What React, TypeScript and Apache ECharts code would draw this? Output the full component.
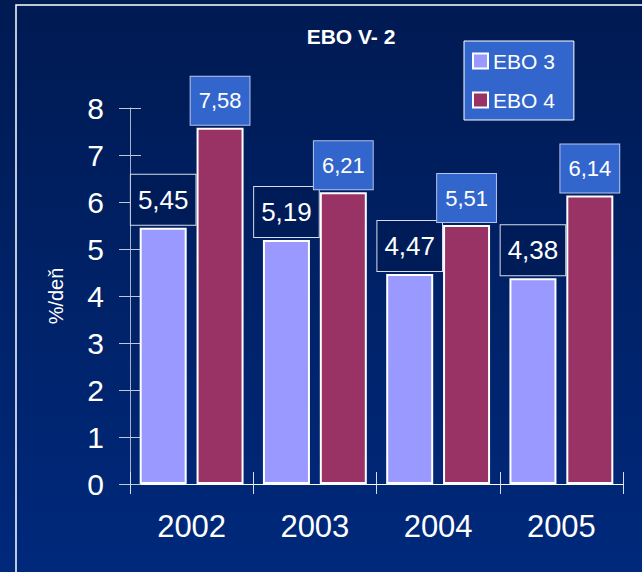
import React, { useEffect, useRef } from "react";
import * as echarts from "echarts";

const categories = ["2002", "2003", "2004", "2005"];
const ebo3 = [5.45, 5.19, 4.47, 4.38];
const ebo4 = [7.58, 6.21, 5.51, 6.14];
const seriesNames = ["EBO 3", "EBO 4"];
const titleText = "EBO V- 2";
const yName = "%/deň";

const FONT = "Arial, 'Liberation Sans', sans-serif";
const fmt = (p: any) => Number(p.value).toFixed(2).replace(".", ",");

export default function App() {
  const ref = useRef<HTMLDivElement>(null);
  useEffect(() => {
    if (!ref.current) return;
    const chart = echarts.init(ref.current, null, { renderer: "svg" });
    const yCommon = { type: "value", min: 0, max: 8, interval: 1, splitLine: { show: false } };
    chart.setOption({
      animation: false,
      backgroundColor: new echarts.graphic.LinearGradient(0, 0, 0, 1, [
        { offset: 0, color: "#001A52" },
        { offset: 1, color: "#00297C" },
      ]),
      textStyle: { fontFamily: FONT },
      title: {
        text: titleText,
        left: 346,
        top: 21,
        textAlign: "center",
        textStyle: { color: "#FFFFFF", fontSize: 21, fontWeight: "bold", fontFamily: FONT },
      },
      legend: {
        orient: "vertical",
        left: 464,
        top: 41,
        padding: [9, 19, 9, 8],
        backgroundColor: "#3366CC",
        borderColor: "#FFFFFF",
        borderWidth: 1,
        itemWidth: 15,
        itemHeight: 15,
        itemGap: 17,
        itemTextGap: 6,
        icon: "rect",
        data: seriesNames,
        textStyle: { color: "#FFFFFF", fontSize: 21, lineHeight: 22, fontFamily: FONT },
      },
      grid: { left: 130, right: 19, top: 108, bottom: 88, containLabel: false },
      xAxis: [
        {
          type: "category",
          data: categories,
          axisLine: { lineStyle: { color: "#FFFFFF", width: 1 } },
          axisTick: { show: true, length: 10, lineStyle: { color: "#D8DCEC" } },
          axisLabel: { color: "#FFFFFF", fontSize: 31, margin: 27, fontFamily: FONT },
        },
        {
          type: "category",
          data: categories,
          position: "bottom",
          axisLine: { show: false },
          axisTick: { show: true, inside: true, length: 12, lineStyle: { color: "#D8DCEC" } },
          axisLabel: { show: false },
        },
      ],
      yAxis: [
        {
          ...yCommon,
          name: yName,
          nameLocation: "middle",
          nameGap: 64,
          nameTextStyle: { color: "#FFFFFF", fontSize: 20, fontFamily: FONT },
          axisLine: { show: true, lineStyle: { color: "#A8B0CC", width: 1 } },
          axisTick: { show: true, length: 11, lineStyle: { color: "#C0C6DC" } },
          axisLabel: { color: "#FFFFFF", fontSize: 30, margin: 26, fontFamily: FONT },
        },
        {
          ...yCommon,
          position: "left",
          axisLine: { show: false },
          axisTick: { show: true, inside: true, length: 11, lineStyle: { color: "#C0C6DC" } },
          axisLabel: { show: false },
        },
      ],
      series: [
        {
          name: seriesNames[0],
          type: "bar",
          data: ebo3,
          barWidth: 47,
          barGap: "21%",
          itemStyle: { color: "#9999FF", borderColor: "#FFFFFF", borderWidth: 2 },
          label: {
            show: true,
            position: "top",
            distance: 3,
            formatter: fmt,
            color: "#FFFFFF",
            fontSize: 26,
            lineHeight: 26,
            fontFamily: FONT,
            backgroundColor: "#001C58",
            borderColor: "#D8DCEC",
            borderWidth: 1,
            padding: [12, 7, 12, 7],
          },
        },
        {
          name: seriesNames[1],
          type: "bar",
          data: ebo4,
          barWidth: 47,
          itemStyle: { color: "#993366", borderColor: "#FFFFFF", borderWidth: 2 },
          label: {
            show: true,
            position: "top",
            distance: 3,
            formatter: fmt,
            color: "#FFFFFF",
            fontSize: 22,
            lineHeight: 22,
            fontFamily: FONT,
            backgroundColor: "#3366CC",
            borderColor: "#B8C4E8",
            borderWidth: 1,
            padding: [13, 8, 13, 8],
          },
        },
      ],
      graphic: [
        {
          type: "rect",
          silent: true,
          z: -1,
          shape: { x: 16, y: 5, width: 700, height: 700 },
          style: { fill: "transparent", stroke: "#FFFFFF", lineWidth: 1.5 },
        },
      ],
    });
    return () => chart.dispose();
  }, []);
  return (
    <div
      ref={ref}
      style={{ position: "fixed", left: 0, top: 0, width: 642, height: 572 }}
    />
  );
}
